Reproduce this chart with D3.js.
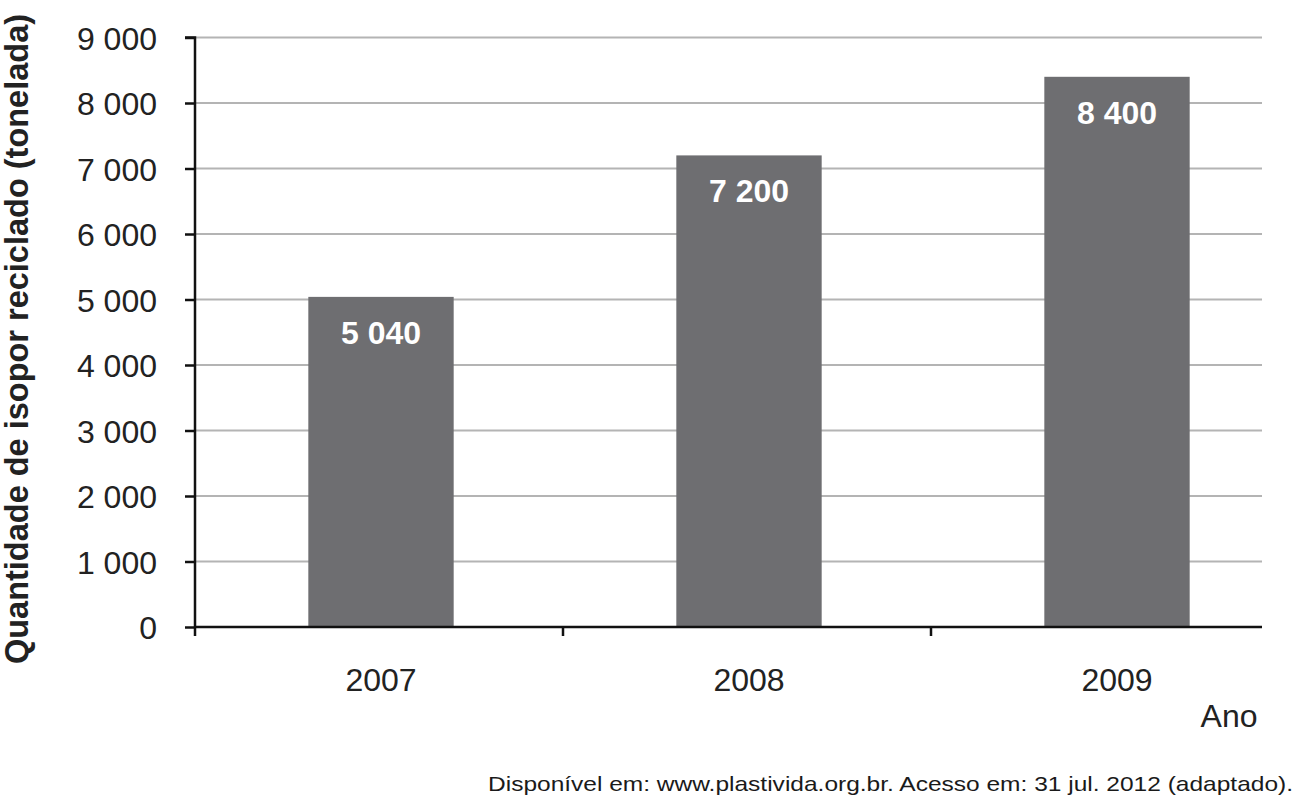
<!DOCTYPE html>
<html><head><meta charset="utf-8">
<script src="https://cdn.jsdelivr.net/npm/d3@7"></script>
<style>body{margin:0;background:#fff}svg{display:block}</style>
</head><body>
<svg id="c" width="1297" height="799"></svg>
<script>
const years = ["2007", "2008", "2009"];
const values = [5040, 7200, 8400];
const valueLabels = ["5 040", "7 200", "8 400"];
const yTicks = [0, 1000, 2000, 3000, 4000, 5000, 6000, 7000, 8000, 9000];
const yTickLabels = ["0", "1 000", "2 000", "3 000", "4 000", "5 000", "6 000", "7 000", "8 000", "9 000"];
const yTitle = "Quantidade de isopor reciclado (tonelada)";
const xTitle = "Ano";
const source = "Disponível em: www.plastivida.org.br. Acesso em: 31 jul. 2012 (adaptado).";

const svg = d3.select("#c");
const font = "'Liberation Sans', Arial, sans-serif";
const mLeft = 195, mRight = 1262, mTop = 37.5, mBottom = 627;
const x = d3.scaleBand().domain(years).range([mLeft, 1299]).padding(0);
const y = d3.scaleLinear().domain([0, 9000]).range([mBottom, mTop]);
const barW = x.bandwidth() * 0.395;

// gridlines
svg.append("g").selectAll("line").data(yTicks.filter(d => d > 0)).join("line")
  .attr("x1", mLeft).attr("x2", mRight)
  .attr("y1", d => y(d)).attr("y2", d => y(d))
  .attr("stroke", "#b4b4b4").attr("stroke-width", 2);

// bars
svg.append("g").selectAll("rect").data(values).join("rect")
  .attr("x", (d, i) => x(years[i]) + x.bandwidth() / 2 - barW / 2 + 2)
  .attr("width", barW)
  .attr("y", d => y(d))
  .attr("height", d => y(0) - y(d))
  .attr("fill", "#6e6e71");

// value labels
svg.append("g").selectAll("text").data(values).join("text")
  .attr("x", (d, i) => x(years[i]) + x.bandwidth() / 2 + 2)
  .attr("y", d => y(d) + 47)
  .attr("text-anchor", "middle")
  .attr("fill", "#fff").attr("font-family", font).attr("font-weight", "bold").attr("font-size", 32)
  .text((d, i) => valueLabels[i]);

// y axis
const yAxis = d3.axisLeft(y).tickValues(yTicks).tickFormat((d, i) => yTickLabels[i]).tickSize(10).tickPadding(28);
const gy = svg.append("g").attr("transform", `translate(${mLeft},0)`).call(yAxis);
gy.select(".domain").attr("stroke", "#111").attr("stroke-width", 2.5).attr("d", `M-10,${mTop}H0V${mBottom + 9}`);
gy.selectAll(".tick line").attr("stroke", "#111").attr("stroke-width", 2.5);
gy.selectAll(".tick text").attr("font-family", font).attr("font-size", 32).attr("fill", "#222").attr("dy", "0.36em");

// x axis
const gx = svg.append("g").attr("transform", `translate(0,${mBottom})`);
gx.append("line").attr("x1", mLeft).attr("x2", mRight).attr("y1", 0).attr("y2", 0)
  .attr("stroke", "#111").attr("stroke-width", 2.5);
const bounds = [x("2008"), x("2009")];
gx.selectAll("line.tk").data(bounds).join("line").attr("class", "tk")
  .attr("x1", d => d).attr("x2", d => d).attr("y1", 0).attr("y2", 9)
  .attr("stroke", "#111").attr("stroke-width", 2.5);
gx.selectAll("text").data(years).join("text")
  .attr("x", d => x(d) + x.bandwidth() / 2 + 2)
  .attr("y", 64)
  .attr("text-anchor", "middle")
  .attr("font-family", font).attr("font-size", 32).attr("fill", "#222")
  .text(d => d);

// axis titles
svg.append("text").attr("transform", "translate(28,339) rotate(-90)")
  .attr("text-anchor", "middle").attr("font-family", font).attr("font-weight", "bold")
  .attr("font-size", 32.5).attr("fill", "#222").text(yTitle);
svg.append("text").attr("x", 1229).attr("y", 727).attr("text-anchor", "middle")
  .attr("font-family", font).attr("font-size", 32).attr("fill", "#222").text(xTitle);

// source
svg.append("text").attr("x", 488).attr("y", 791)
  .attr("textLength", 805).attr("lengthAdjust", "spacingAndGlyphs")
  .attr("font-family", font).attr("font-size", 21).attr("fill", "#1a1a1a").text(source);
</script>
</body></html>
